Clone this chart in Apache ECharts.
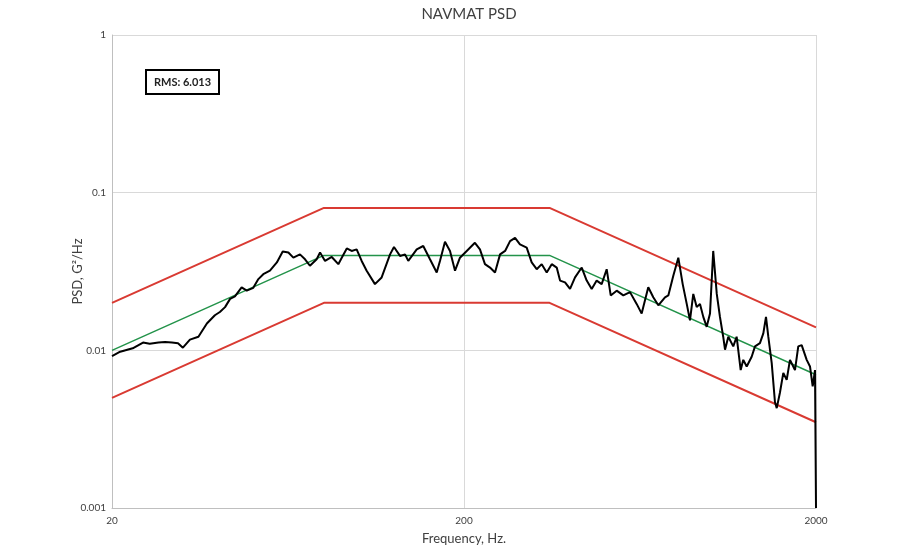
<!DOCTYPE html>
<html>
<head>
<meta charset="utf-8">
<script src="https://cdn.jsdelivr.net/npm/echarts@6/dist/echarts.min.js"></script>
<style>
  html, body { margin: 0; padding: 0; background: #fff; }
  #chart { width: 900px; height: 550px; }
</style>
</head>
<body>
<div id="chart"></div>
<script>
const measFreq = [20, 21.1, 22.9, 24.5, 25.6, 27.1, 28.3, 29.6, 30.8, 31.8, 33.3, 35.2, 37.2, 39.2, 40.5, 41.9, 43.3, 44.7, 46.7, 48.3,
  50.4, 52.1, 53.8, 56.2, 58.8, 61.1, 63.4, 65.5, 68.4, 70.7, 73.0, 76.3, 78.0, 80.6, 84.2, 87.9, 89.9, 92.9, 95.9, 99.1,
  102.4, 105.8, 111.7, 116.7, 123.3, 126.5, 131.6, 136.0, 138.9, 146.8, 153.2, 160.1, 167.3, 170.9, 176.6, 182.5, 188.6, 194.8, 203.6, 214.8,
  222, 229.4, 237.1, 245, 253.2, 261.7, 270.3, 279.3, 288.4, 301.4, 311.4, 321.8, 332.5, 343.6, 355, 366.8, 374.9, 387.3, 400.2, 413.5,
  432, 446.3, 461.1, 476.4, 492.2, 508.6, 522.2, 543, 567, 592.4, 618.8, 639.4, 667.6, 689.8, 713, 744.8, 761.2, 786.4, 812.6, 836.2,
  858.6, 877, 896.2, 916.4, 936.4, 956.8, 978.4, 999.8, 1021, 1045, 1067, 1090, 1103, 1127, 1164, 1190, 1222, 1243, 1271, 1313,
  1342, 1386, 1417, 1442, 1464, 1497, 1529, 1547, 1580, 1615, 1651, 1687, 1743, 1781, 1821, 1882, 1923, 1957, 1987, 2000, 2000];
const measPsd = [0.0092, 0.0098, 0.0103, 0.0112, 0.0110, 0.0112, 0.0113, 0.0112, 0.0111, 0.0104, 0.0117, 0.0122, 0.0148, 0.0167, 0.0175, 0.0188, 0.0212, 0.0220, 0.0251, 0.0239,
  0.0249, 0.0283, 0.0304, 0.0320, 0.0361, 0.0423, 0.0417, 0.0387, 0.0406, 0.0378, 0.0344, 0.0378, 0.0417, 0.0369, 0.0391, 0.0352, 0.0387, 0.0443, 0.0427, 0.0437,
  0.0369, 0.0320, 0.0263, 0.0290, 0.0406, 0.0452, 0.0397, 0.0406, 0.0369, 0.0437, 0.0459, 0.0378, 0.0312, 0.0369, 0.0488, 0.0427, 0.0320, 0.0387, 0.0427, 0.0481,
  0.0437, 0.0352, 0.0335, 0.0312, 0.0406, 0.0427, 0.0493, 0.0517, 0.0470, 0.0448, 0.0361, 0.0327, 0.0352, 0.0312, 0.0352, 0.0335, 0.0277, 0.0270, 0.0245, 0.0290,
  0.0335, 0.0277, 0.0245, 0.0277, 0.0263, 0.0327, 0.0223, 0.0239, 0.0223, 0.0234, 0.0197, 0.0171, 0.0251, 0.0217, 0.0193, 0.0217, 0.0223, 0.0297, 0.0387, 0.0263,
  0.0197, 0.0155, 0.0228, 0.0188, 0.0197, 0.0163, 0.0141, 0.0171, 0.0427, 0.0228, 0.0163, 0.0122, 0.0101, 0.0122, 0.0106, 0.0122, 0.0075, 0.0087, 0.0079, 0.0091,
  0.0106, 0.0111, 0.0128, 0.0163, 0.0122, 0.0083, 0.0047, 0.0043, 0.0054, 0.0072, 0.0065, 0.0087, 0.0075, 0.0106, 0.0108, 0.0087, 0.0079, 0.0059, 0.0075, 0.0075, 0.001];

// NAVMAT P-9492 profile and +/- 3 dB limits
const profFreq = [20, 80, 350, 2000];
const profPsd = [0.01, 0.04, 0.04, 0.007];
const upperPsd = [0.02, 0.08, 0.08, 0.014];
const lowerPsd = [0.005, 0.02, 0.02, 0.0035];

const xTicks = [20, 200, 2000];
const yTicks = [0.001, 0.01, 0.1, 1];
const rmsText = 'RMS: 6.013';

const pairs = (xs, ys) => xs.map((x, i) => [x, ys[i]]);
const plain = v => String(+(+v).toPrecision(3));

const chart = echarts.init(document.getElementById('chart'));
const font = 'Lato, "Open Sans", sans-serif';

chart.setOption({
    animation: false,
    title: {
        text: 'NAVMAT PSD',
        left: 464,
        top: 2,
        textAlign: 'center',
        textStyle: { fontFamily: font, fontSize: 15, fontWeight: 'normal', color: '#404040' }
    },
    grid: { left: 112, right: 84, top: 35, bottom: 37 },
    xAxis: {
        type: 'log',
        logBase: 10,
        min: 20,
        max: 2000,
        name: 'Frequency, Hz.',
        nameLocation: 'middle',
        nameGap: 24,
        nameTextStyle: { fontFamily: font, fontSize: 13, color: '#404040' },
        axisLine: { lineStyle: { color: '#bfbfbf' } },
        axisTick: { show: false, customValues: xTicks },
        axisLabel: { customValues: xTicks, fontFamily: font, fontSize: 10, color: '#404040', margin: 8, formatter: plain },
        splitLine: { show: true, lineStyle: { color: '#d9d9d9' } }
    },
    yAxis: {
        type: 'log',
        logBase: 10,
        min: 0.001,
        max: 1,
        name: 'PSD, G²/Hz',
        nameLocation: 'middle',
        nameGap: 28,
        nameMoveOverlap: false,
        nameTextStyle: { fontFamily: font, fontSize: 13, color: '#404040' },
        axisLine: { show: true, lineStyle: { color: '#bfbfbf' } },
        axisTick: { show: false, customValues: yTicks },
        axisLabel: { customValues: yTicks, fontFamily: font, fontSize: 10, color: '#404040', margin: 6, formatter: plain },
        splitLine: { show: true, lineStyle: { color: '#d9d9d9' } }
    },
    graphic: [{
        type: 'group',
        left: 145,
        top: 69,
        children: [{
            type: 'rect',
            shape: { x: 0, y: 0, width: 73, height: 24 },
            style: { fill: '#fff', stroke: '#000', lineWidth: 2 }
        }, {
            type: 'text',
            x: 36.5,
            y: 12,
            style: {
                text: rmsText,
                fontFamily: font, fontSize: 11, fontWeight: 'bold', fill: '#222',
                align: 'center', verticalAlign: 'middle'
            }
        }]
    }],
    series: [
        {
            name: 'upper', type: 'line', data: pairs(profFreq, upperPsd),
            symbol: 'none', lineStyle: { color: '#d93a32', width: 2 }
        },
        {
            name: 'lower', type: 'line', data: pairs(profFreq, lowerPsd),
            symbol: 'none', lineStyle: { color: '#d93a32', width: 2 }
        },
        {
            name: 'profile', type: 'line', data: pairs(profFreq, profPsd),
            symbol: 'none', lineStyle: { color: '#23934a', width: 1.5 }
        },
        {
            name: 'measured', type: 'line', data: pairs(measFreq, measPsd),
            symbol: 'none', lineStyle: { color: '#000', width: 2 }
        }
    ]
});
</script>
</body>
</html>
